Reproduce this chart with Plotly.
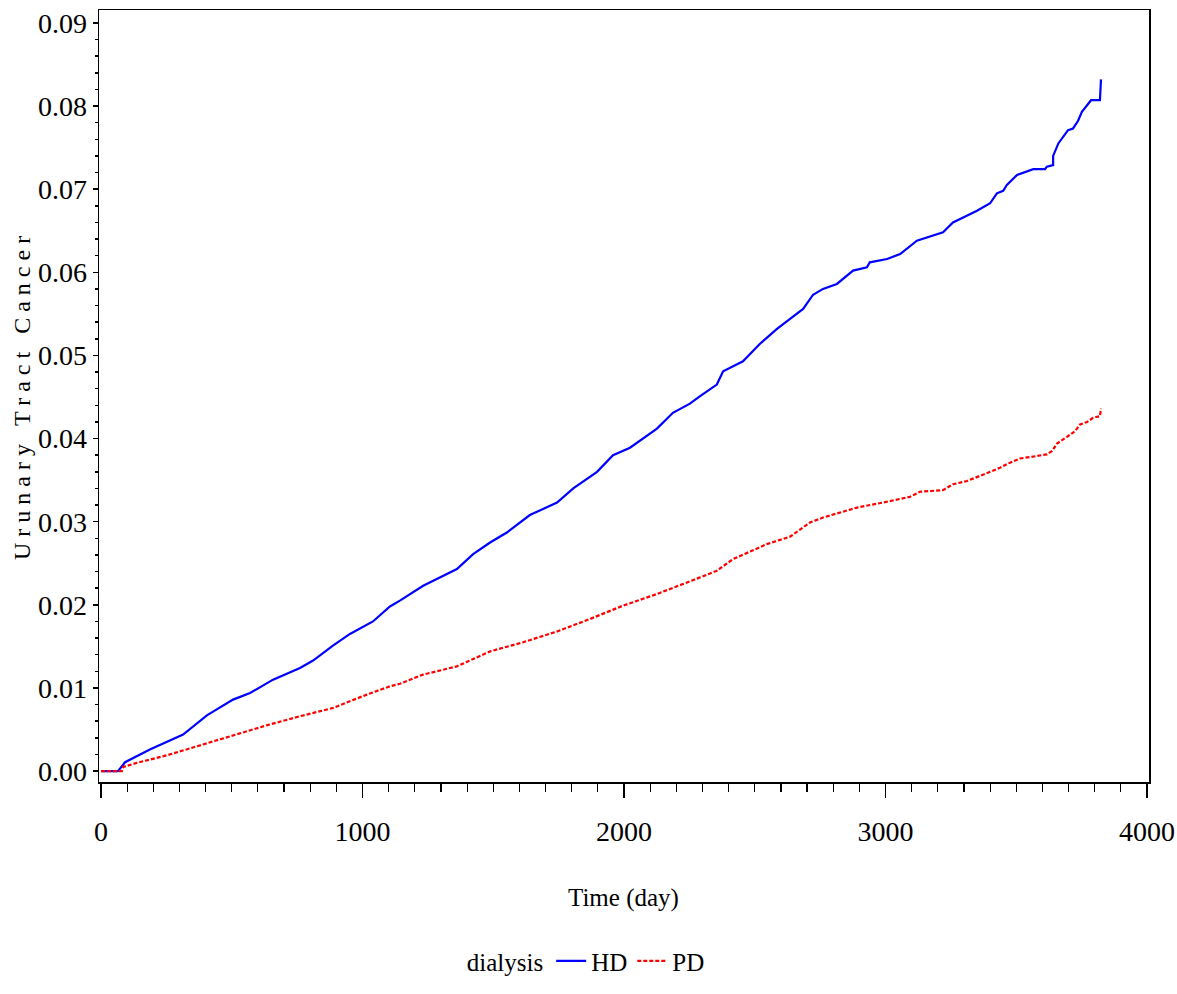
import plotly.graph_objects as go

# Cumulative incidence of urinary tract cancer by dialysis type
hd_days = [0, 65, 92, 187, 314, 405, 505, 570, 658, 761, 811, 887, 952, 1040, 1105,
           1143, 1232, 1361, 1423, 1488, 1552, 1640, 1744, 1806, 1897, 1958, 2023,
           2126, 2187, 2252, 2291, 2355, 2379, 2455, 2520, 2585, 2635, 2685, 2723,
           2761, 2814, 2876, 2929, 2940, 3006, 3056, 3120, 3220, 3258, 3312, 3350,
           3400, 3426, 3450, 3464, 3503, 3541, 3565, 3610, 3617, 3641, 3641, 3661,
           3680, 3698, 3717, 3736, 3751, 3771, 3786, 3820, 3824]
hd_vals = [0.0, 0.0, 0.00107, 0.0026, 0.0044, 0.0067, 0.0086, 0.0094, 0.0110, 0.0124,
           0.0133, 0.0151, 0.0165, 0.0180, 0.0198, 0.0205, 0.0223, 0.0243, 0.0261,
           0.0275, 0.0287, 0.0308, 0.0323, 0.0340, 0.0360, 0.0380, 0.0389, 0.0412,
           0.0431, 0.0442, 0.0451, 0.0465, 0.0481, 0.0493, 0.0514, 0.0532, 0.0544,
           0.0556, 0.0573, 0.0580, 0.0586, 0.0602, 0.0606, 0.0612, 0.0616, 0.0622,
           0.0638, 0.0648, 0.0660, 0.0668, 0.0674, 0.0683, 0.0695, 0.0698, 0.0705,
           0.0717, 0.0721, 0.0724, 0.0724, 0.0727, 0.0729, 0.0740, 0.0755, 0.0764,
           0.0771, 0.0773, 0.0782, 0.0793, 0.0801, 0.0807, 0.0807, 0.0832]

pd_days = [0, 80, 85, 138, 252, 379, 505, 633, 761, 888, 1016, 1105, 1143, 1231, 1361,
           1488, 1614, 1744, 1870, 1996, 2126, 2252, 2291, 2355, 2417, 2546, 2635,
           2711, 2761, 2837, 2891, 2990, 3094, 3132, 3220, 3258, 3312, 3400, 3438,
           3476, 3514, 3579, 3617, 3637, 3656, 3694, 3725, 3744, 3771, 3794, 3820, 3824]
pd_vals = [0.0, 0.0, 0.0005, 0.0010, 0.0019, 0.0031, 0.0043, 0.0055, 0.0066, 0.0076,
           0.0092, 0.0102, 0.0105, 0.0116, 0.0126, 0.0144, 0.0155, 0.0168, 0.0183,
           0.0199, 0.0213, 0.0229, 0.0233, 0.0241, 0.0255, 0.0273, 0.0282, 0.0299,
           0.0305, 0.0312, 0.0317, 0.0323, 0.0330, 0.0336, 0.0338, 0.0345, 0.0349,
           0.0360, 0.0365, 0.0371, 0.0376, 0.0379, 0.0381, 0.0385, 0.0394, 0.0402,
           0.0409, 0.0417, 0.0420, 0.0425, 0.0427, 0.0436]

x_ticks = [0, 1000, 2000, 3000, 4000]
y_ticks = [0.00, 0.01, 0.02, 0.03, 0.04, 0.05, 0.06, 0.07, 0.08, 0.09]
y_tick_text = ["%.2f" % v for v in y_ticks]

FONT = "Liberation Serif"

fig = go.Figure()
fig.add_trace(go.Scatter(x=hd_days, y=hd_vals, mode="lines", name="HD",
                         line=dict(color="#0000FF", width=2.2, shape="linear")))
fig.add_trace(go.Scatter(x=pd_days, y=pd_vals, mode="lines", name="PD",
                         line=dict(color="#FF0000", width=2.2, shape="linear", dash="4px,2px")))

fig.update_layout(
    width=1177, height=994,
    margin=dict(l=99, r=28, t=10, b=204),
    paper_bgcolor="white", plot_bgcolor="white",
    font=dict(family=FONT, size=28, color="black"),
    showlegend=True,
    legend=dict(orientation="h", x=0.465, xanchor="center", y=-0.232, yanchor="middle",
                title=dict(text="dialysis", font=dict(family=FONT, size=25)),
                font=dict(family=FONT, size=25), itemwidth=30,
                bgcolor="rgba(0,0,0,0)"),
    hovermode=False,
)

fig.update_xaxes(
    range=[-7.6, 4007.6], tickvals=x_ticks, ticktext=[str(v) for v in x_ticks],
    automargin=False, ticklabeloverflow="allow",
    showgrid=False, zeroline=False, showline=True, mirror=True,
    linecolor="black", linewidth=1.5,
    ticks="outside", ticklen=14, tickwidth=1.5, tickcolor="black",
    ticklabelstandoff=10,
    tickfont=dict(family=FONT, size=28),
    minor=dict(dtick=100, tick0=0, ticks="outside", ticklen=8, tickwidth=1.2,
               tickcolor="black", showgrid=False),
)
fig.update_yaxes(
    range=[-0.00131, 0.09155], tickvals=y_ticks, ticktext=y_tick_text,
    automargin=False, ticklabeloverflow="allow",
    showgrid=False, zeroline=False, showline=True, mirror=True,
    linecolor="black", linewidth=1.5,
    ticks="outside", ticklen=5, tickwidth=1.5, tickcolor="black",
    tickfont=dict(family=FONT, size=28),
    minor=dict(dtick=0.002, tick0=0, ticks="outside", ticklen=3, tickwidth=1.5,
               tickcolor="black", showgrid=False),
)

fig.add_annotation(text="Time (day)", xref="paper", yref="paper",
                   x=(623 - 99) / 1050, y=(790 - 907) / 780,
                   xanchor="center", yanchor="middle", showarrow=False,
                   font=dict(family=FONT, size=25))
fig.add_annotation(text="U r u n a r y \u2002T r a c t \u2002C a n c e r",
                   xref="paper", yref="paper",
                   x=(22 - 99) / 1050, y=(790 - 402) / 780, textangle=-90,
                   xanchor="center", yanchor="middle", showarrow=False,
                   font=dict(family=FONT, size=24))

# pin the figure to the window's top-left corner with nothing scrolling
fig.write_html(
    "out.html",
    config={"displayModeBar": False, "staticPlot": True},
    post_script=("document.documentElement.style.overflow='hidden';"
                 "document.body.style.margin='0';"
                 "document.body.style.height='994px';"
                 "document.body.style.overflow='hidden';"),
)
